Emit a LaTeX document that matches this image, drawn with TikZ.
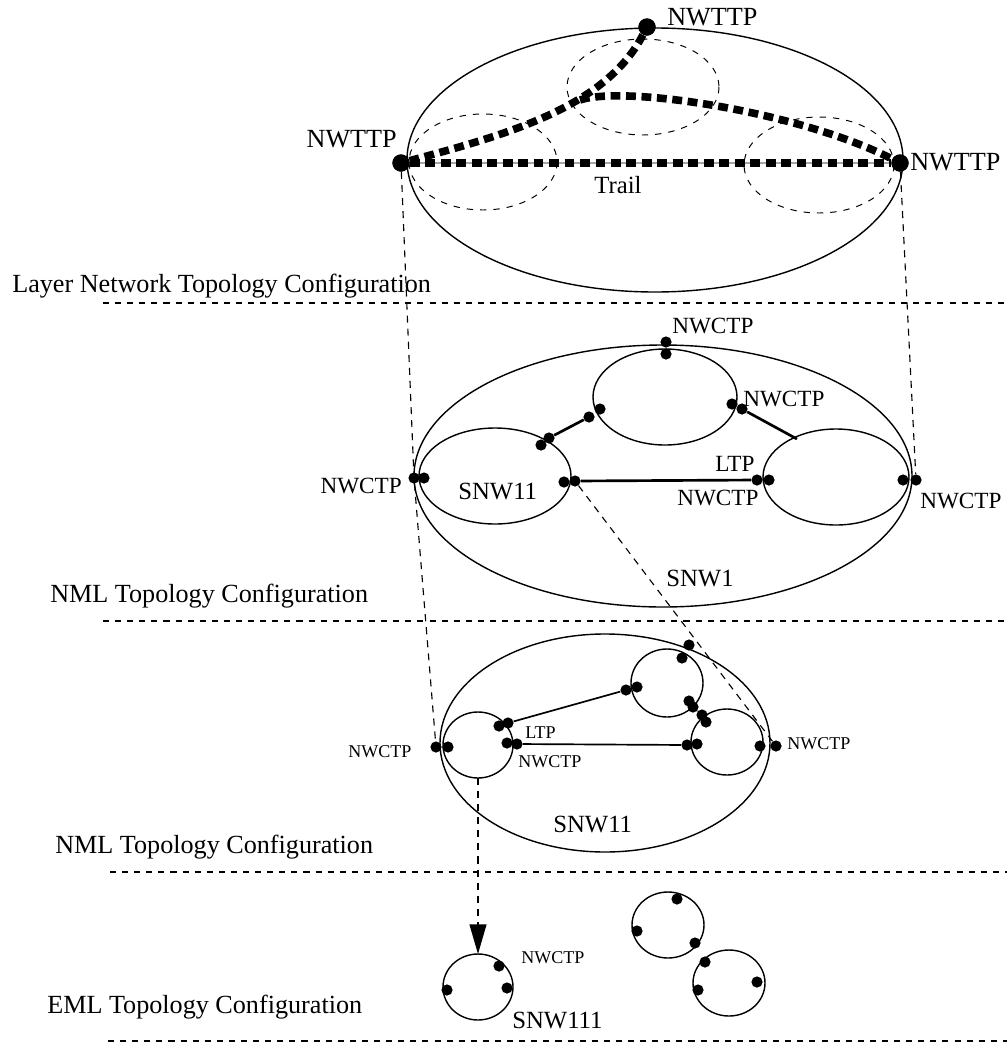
\documentclass[tikz,border=0pt]{standalone}
\usepackage{fontspec}
\setmainfont{Liberation Serif}
\usetikzlibrary{arrows.meta}

\begin{document}
\begin{tikzpicture}[x=0.025cm, y=-0.025cm,
  cp/.style={circle, fill=black, inner sep=0pt, minimum size=2.8mm},
  ttp/.style={circle, fill=black, inner sep=0pt, minimum size=4.3mm},
  big/.style={inner sep=0pt, font=\fontsize{18.6}{20}\selectfont},
  netname/.style={inner sep=0pt, font=\fontsize{17.6}{19}\selectfont},
  midtext/.style={inner sep=0pt, font=\fontsize{16.5}{18}\selectfont},
  smalltext/.style={inner sep=0pt, font=\fontsize{12.8}{14}\selectfont},
  layerline/.style={line width=1.9pt, dash pattern=on 4.3pt off 4.3pt},
  trailline/.style={line width=5.4pt, dash pattern=on 7pt off 4pt},
  projline/.style={line width=0.8pt, dash pattern=on 5pt off 4.3pt},
  subnet/.style={line width=0.7pt, dash pattern=on 4.5pt off 5pt},
  ring/.style={line width=1pt},
  linkline/.style={line width=1.9pt}]
\useasboundingbox (0,0) rectangle (1007,1047);

% layer borders
\draw[layerline] (103,303) -- (1007,303);
\draw[layerline] (103,621) -- (1007,621);
\draw[layerline] (110,872) -- (1007,872);
\draw[layerline] (108,1041) -- (1007,1041);
\node[big, anchor=base west] (lnet) at (12,292) {Layer Network Topology Configuration};
\node[big, anchor=base west] (nmlA) at (50,602) {NML Topology Configuration};
\node[big, anchor=base west] (nmlB) at (55,853) {NML Topology Configuration};
\node[big, anchor=base west] (eml) at (47,1013) {EML Topology Configuration};

% layer network with the trail
\draw[ring] (655,160) ellipse [x radius=248, y radius=132];
\draw[subnet] (483,162) ellipse [x radius=74, y radius=48];
\draw[subnet] (643,87) ellipse [x radius=76, y radius=48];
\draw[subnet] (819,165) ellipse [x radius=75, y radius=48];
\node[ttp] (ttpL) at (401,163) {};
\node[ttp] (ttpR) at (900,163) {};
\node[ttp] (ttpT) at (647,27) {};
\coordinate (fork) at (580,100);
\draw[gray!70, line width=1.2pt] (ttpL) -- (ttpR);
\draw[trailline] (ttpL) -- (ttpR);
\draw[trailline] (ttpL) .. controls (505,135) and (605,108) .. (ttpT);
\draw[trailline] (fork) .. controls (625,85) and (800,112) .. (ttpR);
\node[ttp] at (ttpL) {};
\node[ttp] at (ttpR) {};
\node[ttp] at (ttpT) {};
\node[big, anchor=base east] (lblL) at (397,147) {NWTTP};
\node[big, anchor=base west] (lblT) at (667,25) {NWTTP};
\node[big, anchor=base west] (lblR) at (910,170) {NWTTP};
\node[netname, anchor=base west] (trail) at (594,193) {Trail};

% SNW1
\draw[ring] (663,476) ellipse [x radius=249, y radius=131];
\draw[ring] (665,397) ellipse [x radius=72, y radius=48];
\draw[ring] (495,476) ellipse [x radius=76, y radius=48];
\draw[ring] (836,477) ellipse [x radius=73, y radius=48];
\node[cp] (mT1) at (666,342) {};
\node[cp] (mT2) at (666,354) {};
\node[cp] (mL1) at (414,478) {};
\node[cp] (mL2) at (424,478) {};
\node[cp] (mA1) at (541,445) {};
\node[cp] (mA2) at (549,438) {};
\node[cp] (mB1) at (589,417) {};
\node[cp] (mB2) at (600,409) {};
\node[cp] (mC1) at (732,404) {};
\node[cp] (mC2) at (742,409) {};
\coordinate (mC3) at (797,439);
\node[cp] (mD1) at (564,482) {};
\node[cp] (mD2) at (575,481) {};
\node[cp] (mE1) at (757,480) {};
\node[cp] (mE2) at (769,480) {};
\node[cp] (mR1) at (903,480) {};
\node[cp] (mR2) at (916,480) {};
\draw[linkline] (mA2) -- (mB1);
\draw[linkline] (mC2) -- (mC3);
\draw[linkline] (mD2) -- (mE1);
\node[midtext, anchor=base west] (mlblT) at (672,333) {NWCTP};
\node[midtext, anchor=base east] (mlblL) at (402,493) {NWCTP};
\node[midtext, anchor=base west] (mlblC) at (743,406) {NWCTP};
\node[midtext, anchor=base west] (mltp) at (715,471) {LTP};
\node[midtext, anchor=base west] (mlblE) at (677,505) {NWCTP};
\node[midtext, anchor=base west] (mlblR) at (920,508) {NWCTP};
\node[netname, anchor=base west] (snwA) at (458,499) {SNW11};
\node[netname, anchor=base west] (snw) at (666,586) {SNW1};

% SNW11
\draw[ring] (605,743) ellipse [x radius=165, y radius=109];
\draw[ring] (478,745) ellipse [x radius=35, y radius=33];
\draw[ring] (667,683) ellipse [x radius=36, y radius=34];
\draw[ring] (727,742) ellipse [x radius=36, y radius=33];
\node[cp] (bL1) at (436,747) {};
\node[cp] (bL2) at (448,747) {};
\node[cp] (bA1) at (507,743) {};
\node[cp] (bA2) at (517,744) {};
\node[cp] (bB1) at (687,745) {};
\node[cp] (bB2) at (697,744) {};
\node[cp] (bC1) at (499,726) {};
\node[cp] (bC2) at (508,723) {};
\node[cp] (bD1) at (626,690) {};
\node[cp] (bD2) at (637,687) {};
\node[cp] (bE1) at (689,645) {};
\node[cp] (bE2) at (682,658) {};
\node[cp] (bF1) at (689,701) {};
\node[cp] (bF2) at (693,707) {};
\node[cp] (bF3) at (702,715) {};
\node[cp] (bF4) at (706,722) {};
\node[cp] (bG1) at (760,746) {};
\node[cp] (bG2) at (776,746) {};
\draw[line width=1.2pt] (bA2) -- (bB1);
\draw[line width=1.2pt] (bC2) -- (bD1);
\draw[line width=1.2pt] (bF2) -- (bF3);
\node[smalltext, anchor=base west] (blblL) at (348,757) {NWCTP};
\node[smalltext, anchor=base west] (bltp) at (525,738) {LTP};
\node[smalltext, anchor=base west] (blblA) at (518,767) {NWCTP};
\node[smalltext, anchor=base west] (blblR) at (787,749) {NWCTP};
\node[netname, anchor=base west] (snwB) at (553,832) {SNW11};

% EML subnetworks
\draw[ring] (478,987) ellipse [x radius=35, y radius=33];
\draw[ring] (668,925) ellipse [x radius=36, y radius=33];
\draw[ring] (729,983) ellipse [x radius=36, y radius=33];
\node[cp] (eA1) at (447,990) {};
\node[cp] (eA2) at (499,966) {};
\node[cp] (eA3) at (507,988) {};
\node[cp] (eB1) at (677,899) {};
\node[cp] (eB2) at (637,931) {};
\node[cp] (eB3) at (695,943) {};
\node[cp] (eC1) at (705,962) {};
\node[cp] (eC2) at (698,990) {};
\node[cp] (eC3) at (757,982) {};
\coordinate (snwTop) at (478,954);
\coordinate (snwBot) at (478,778);
\node[smalltext, anchor=base west] (elbl) at (521,963) {NWCTP};
\node[netname, anchor=base west] (snwC) at (512,1028) {SNW111};

% projections between the layers
\draw[projline] (ttpL) -- (mL1);
\draw[projline] (ttpR) -- (mR2);
\draw[projline] (mL1) -- (bL1);
\draw[projline] (mD2) -- (bG2);
\draw[projline, -{Triangle[length=21pt, width=12pt]}] (snwBot) -- (snwTop);

\end{tikzpicture}
\end{document}
